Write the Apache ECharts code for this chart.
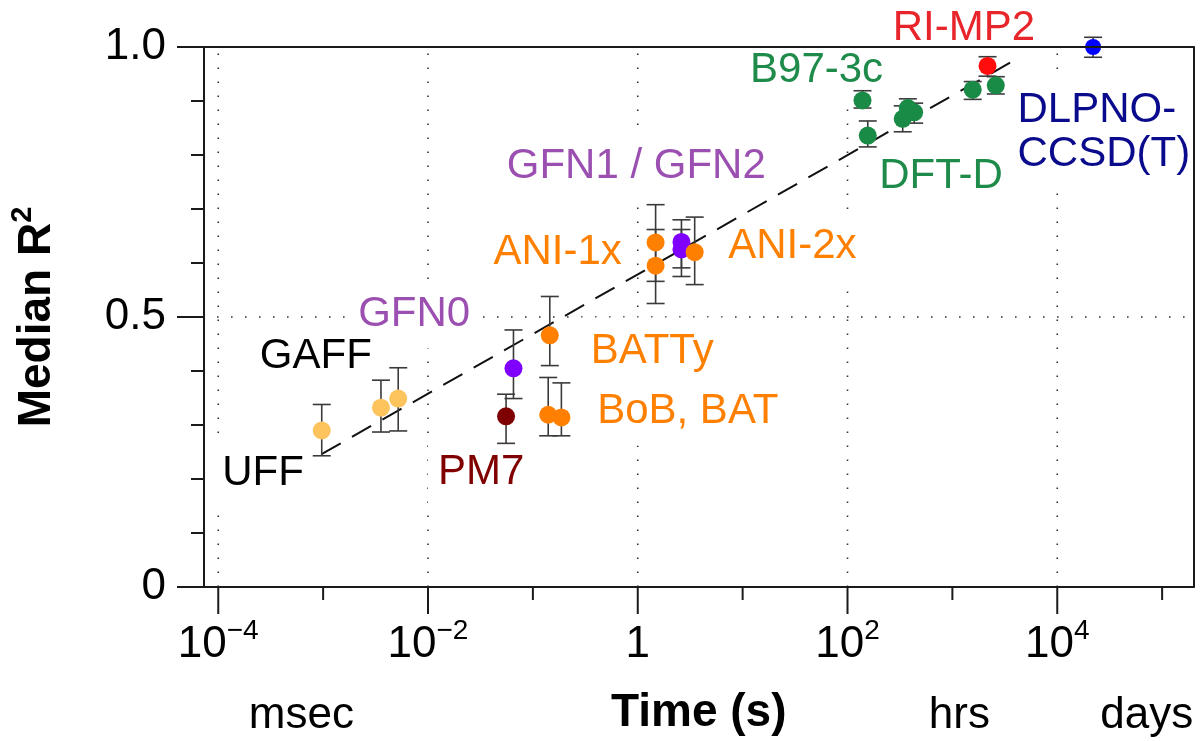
<!DOCTYPE html>
<html>
<head>
<meta charset="utf-8">
<title>Median R² vs. time</title>
<script src="https://cdn.jsdelivr.net/npm/echarts@6/dist/echarts.min.js"></script>
<style>
  html, body { margin: 0; padding: 0; background: #fff; }
  #chart { width: 1202px; height: 741px; }
</style>
</head>
<body>
<div id="chart"></div>
<script>
// ---- data: median R² of each method against its wall-clock time ----
const methods = ['UFF', 'GAFF', 'GAFF', 'PM7', 'GFN0', 'BATTy', 'BoB', 'BAT',
  'ANI-1x', 'ANI-1x', 'GFN1', 'GFN2', 'ANI-2x', 'B97-3c',
  'DFT-D', 'DFT-D', 'DFT-D', 'DFT-D', 'DFT-D', 'DFT-D', 'RI-MP2', 'DLPNO-CCSD(T)'];
const families = ['ff', 'ff', 'ff', 'pm7', 'gfn', 'ml', 'ml', 'ml',
  'ml', 'ml', 'gfn', 'gfn', 'ml', 'dft',
  'dft', 'dft', 'dft', 'dft', 'dft', 'dft', 'mp2', 'cc'];
const timeSec = [9.7e-4, 3.56e-3, 5.2e-3, 0.0555, 0.0653, 0.145, 0.140, 0.187,
  1.48, 1.48, 2.61, 2.61, 3.49, 139,
  156, 336, 376, 432, 1563, 2594, 2163, 21980];
const medianR2 = [0.290, 0.332, 0.349, 0.316, 0.405, 0.466, 0.319, 0.314,
  0.638, 0.595, 0.639, 0.625, 0.620, 0.901,
  0.836, 0.867, 0.887, 0.879, 0.921, 0.929, 0.965, 1.000];
const r2Low = [0.243, 0.287, 0.289, 0.266, 0.349, 0.410, 0.280, 0.280,
  0.566, 0.525, 0.591, 0.575, 0.560, 0.887,
  0.815, 0.843, 0.865, 0.859, 0.903, 0.913, 0.946, 0.981];
const r2High = [0.338, 0.383, 0.406, 0.357, 0.476, 0.538, 0.388, 0.378,
  0.708, 0.662, 0.680, 0.662, 0.685, 0.919,
  0.863, 0.891, 0.904, 0.896, 0.936, 0.945, 0.982, 1.018];

// log-linear trend through the cloud of methods (end points)
const trendTime = [9.66e-4, 3870];
const trendR2 = [0.246, 0.975];

// method-family annotations (text, anchor time, anchor R²)
const annotationText = ['RI-MP2', 'B97-3c', 'DFT-D', 'DLPNO-\nCCSD(T)', 'GFN1 / GFN2',
  'ANI-1x', 'ANI-2x', 'GAFF', 'GFN0', 'UFF', 'PM7', 'BATTy', 'BoB, BAT'];
const annotationFamily = ['mp2', 'dft', 'dft', 'cc', 'gfn',
  'ml', 'ml', 'ff', 'gfn', 'ff', 'pm7', 'ml', 'ml'];
const annotationTime = [1288, 50.7, 780, 27800, 0.968,
  0.172, 29.8, 8.52e-4, 7.38e-3, 2.67e-4, 0.0321, 1.373, 3.00];
const annotationR2 = [1.035, 0.957, 0.760, 0.842, 0.778,
  0.620, 0.631, 0.4275, 0.5046, 0.2107, 0.2126, 0.436, 0.325];

// axes
const X_MIN = 7.313e-5, X_MAX = 1.9913e5;
const decadeExponents = [-4, -3, -2, -1, 0, 1, 2, 3, 4, 5];
const gridDecades = [-4, -2, 0, 2, 4];
const yGridLines = [0.5];
const unitNames = ['msec', 'hrs', 'days'];
const unitTimes = [6.2e-4, 1166, 71300];

// ---- styling ----
const FONT = '"Liberation Sans", Arial, Helvetica, sans-serif';
const INK = '#1a1a1a';
const markerColor = { ff: '#FDC45E', pm7: '#7F0000', gfn: '#7F00FF', ml: '#FF8000',
  dft: '#1A8A47', mp2: '#FF0D0D', cc: '#0000FF' };
const labelColor = { ff: '#000000', pm7: '#800000', gfn: '#9B4FB0', ml: '#FF8000',
  dft: '#1E8B4A', mp2: '#E8252B', cc: '#0A0A8C' };

function decadeLabel(k) {
  if (k === 0) return '{b|1}';
  return '{b|10}{s|' + (k < 0 ? '\u2212' + (-k) : String(k)) + '}';
}

// Annotation layer: the white boxes (knocking out the dotted grid) and the
// coloured texts are separate layers so no box ever hides another label.
function annotationSeries(boxLayer, z) {
  return {
    type: 'custom', name: boxLayer ? 'annotation boxes' : 'annotations',
    z, silent: true, clip: false,
    data: annotationTime.map((t, i) => [t, annotationR2[i]]),
    renderItem(params, api) {
      const i = params.dataIndex;
      const p = api.coord([api.value(0), api.value(1)]);
      const color = boxLayer ? 'rgba(0,0,0,0)' : labelColor[annotationFamily[i]];
      const raw = annotationText[i];
      const multi = raw.indexOf('\n') >= 0;
      const style = {
        text: multi ? raw.split('\n').map(s => '{l|' + s + '}').join('\n') : raw,
        align: 'center', verticalAlign: 'middle',
        fontFamily: FONT, fontSize: 42, lineHeight: 48, fill: color,
        padding: [10, 10]
      };
      if (boxLayer) style.backgroundColor = '#ffffff';
      if (multi) {
        style.rich = { l: { fontFamily: FONT, fontSize: 42, lineHeight: 44, fill: color, align: 'left' } };
      }
      return { type: 'text', x: p[0], y: p[1], style };
    }
  };
}

const chart = echarts.init(document.getElementById('chart'), null, { renderer: 'canvas' });

const plainAxis = {
  axisTick: { show: false }, axisLabel: { show: false },
  splitLine: { show: false }, minorTick: { show: false }, minorSplitLine: { show: false }
};

const option = {
  animation: false,
  backgroundColor: '#ffffff',
  grid: { left: 200, right: 8.5, top: 47, bottom: 153, containLabel: false, show: false },
  xAxis: [
    Object.assign({}, plainAxis, {
      type: 'log', logBase: 10, min: X_MIN, max: X_MAX, position: 'bottom', z: 10,
      axisLine: { show: true, onZero: false, lineStyle: { color: INK, width: 2 } },
      name: 'Time (s)', nameLocation: 'middle', nameGap: 103,
      nameTextStyle: { fontFamily: FONT, fontSize: 46, fontWeight: 'bold', color: '#000' }
    }),
    Object.assign({}, plainAxis, {
      type: 'log', logBase: 10, min: X_MIN, max: X_MAX, position: 'top', z: 10,
      axisLine: { show: true, onZero: false, lineStyle: { color: INK, width: 2 } }
    })
  ],
  yAxis: [
    {
      type: 'value', min: 0, max: 1, interval: 0.5, position: 'left', z: 10,
      axisLine: { show: true, onZero: false, lineStyle: { color: INK, width: 2 } },
      axisTick: { show: true, length: 27, lineStyle: { color: INK, width: 2 } },
      minorTick: { show: true, splitNumber: 5, length: 13, lineStyle: { color: INK, width: 2 } },
      splitLine: { show: false },
      axisLabel: {
        margin: 38, fontFamily: FONT, fontSize: 44, color: '#000',
        formatter: v => (v === 0 ? '0' : v.toFixed(1))
      },
      name: '{m|Median R}{s|2}', nameLocation: 'middle', nameRotate: 90, nameGap: 144,
      nameTextStyle: {
        fontFamily: FONT, fontSize: 46, fontWeight: 'bold', color: '#000',
        rich: {
          m: { fontFamily: FONT, fontSize: 46, fontWeight: 'bold', color: '#000', lineHeight: 52, verticalAlign: 'bottom' },
          s: { fontFamily: FONT, fontSize: 29, fontWeight: 'bold', color: '#000', lineHeight: 20, verticalAlign: 'top' }
        }
      }
    },
    Object.assign({}, plainAxis, {
      type: 'value', min: 0, max: 1, position: 'right', z: 10,
      axisLine: { show: true, onZero: false, lineStyle: { color: INK, width: 2 } }
    })
  ],
  series: [
    // dotted decade grid
    {
      type: 'custom', name: 'decade grid', z: 1, silent: true, clip: false,
      data: gridDecades.map(k => [Math.pow(10, k), 0]),
      renderItem(params, api) {
        const v = api.value(0);
        const a = api.coord([v, 0]), b = api.coord([v, 1]);
        return { type: 'line', shape: { x1: a[0], y1: a[1], x2: b[0], y2: b[1] },
          style: { stroke: '#333', lineWidth: 1.6, lineDash: [1.6, 12.4] } };
      }
    },
    {
      type: 'custom', name: 'R2 grid', z: 1, silent: true, clip: false,
      data: yGridLines.map(v => [X_MIN, v]),
      renderItem(params, api) {
        const a = api.coord([X_MIN, api.value(1)]), b = api.coord([X_MAX, api.value(1)]);
        return { type: 'line', shape: { x1: a[0] + 13, y1: a[1], x2: b[0], y2: b[1] },
          style: { stroke: '#333', lineWidth: 1.6, lineDash: [1.6, 12.4] } };
      }
    },
    // decade ticks and labels on the time axis
    {
      type: 'custom', name: 'time ticks', z: 10, silent: true, clip: false,
      data: decadeExponents.map(k => [Math.pow(10, k), 0]),
      renderItem(params, api) {
        const v = api.value(0);
        const k = Math.round(Math.log10(v));
        const major = k % 2 === 0;
        const p = api.coord([v, 0]);
        const children = [{
          type: 'line', shape: { x1: p[0], y1: p[1], x2: p[0], y2: p[1] + (major ? 27 : 13) },
          style: { stroke: INK, lineWidth: 2 }
        }];
        if (major) {
          children.push({
            type: 'text', x: p[0], y: p[1] + 55,
            style: {
              text: decadeLabel(k), align: 'center', verticalAlign: 'middle',
              fontFamily: FONT, fontSize: 44, fill: '#000',
              rich: {
                b: { fontFamily: FONT, fontSize: 44, fill: '#000', lineHeight: 50, verticalAlign: 'bottom' },
                s: { fontFamily: FONT, fontSize: 28, fill: '#000', lineHeight: 20, verticalAlign: 'top' }
              }
            }
          });
        }
        return { type: 'group', children };
      }
    },
    // time-unit hints under the axis
    {
      type: 'custom', name: 'time units', z: 10, silent: true, clip: false,
      data: unitTimes.map(t => [t, 0]),
      renderItem(params, api) {
        const p = api.coord([api.value(0), 0]);
        return { type: 'text', x: p[0], y: p[1] + 129,
          style: { text: unitNames[params.dataIndex], align: 'center', verticalAlign: 'middle',
            fontFamily: FONT, fontSize: 44, fill: '#000' } };
      }
    },
    // method-family annotations
    annotationSeries(true, 2),
    annotationSeries(false, 3),
    // trend line
    {
      type: 'line', name: 'trend', z: 4, silent: true, clip: false,
      data: trendTime.map((t, i) => [t, trendR2[i]]),
      symbol: 'none',
      lineStyle: { color: '#111', width: 2, type: [22, 13] }
    },
    // error bars
    {
      type: 'custom', name: 'error bars', z: 5, silent: true, clip: false,
      data: timeSec.map((t, i) => [t, r2Low[i], r2High[i]]),
      renderItem(params, api) {
        const t = api.value(0);
        const lo = api.coord([t, api.value(1)]);
        const hi = api.coord([t, api.value(2)]);
        const w = 9;
        const st = { stroke: '#3a3a3a', lineWidth: 1.6 };
        return { type: 'group', children: [
          { type: 'line', shape: { x1: lo[0], y1: lo[1], x2: hi[0], y2: hi[1] }, style: st },
          { type: 'line', shape: { x1: lo[0] - w, y1: lo[1], x2: lo[0] + w, y2: lo[1] }, style: st },
          { type: 'line', shape: { x1: hi[0] - w, y1: hi[1], x2: hi[0] + w, y2: hi[1] }, style: st }
        ] };
      }
    },
    // methods
    {
      type: 'scatter', name: 'methods', z: 6, clip: false, silent: true,
      data: timeSec.map((t, i) => ({
        name: methods[i],
        value: [t, medianR2[i]],
        symbolSize: families[i] === 'cc' ? 16 : 18,
        itemStyle: { color: markerColor[families[i]], opacity: 1 }
      }))
    }
  ]
};

chart.setOption(option);
</script>
</body>
</html>
